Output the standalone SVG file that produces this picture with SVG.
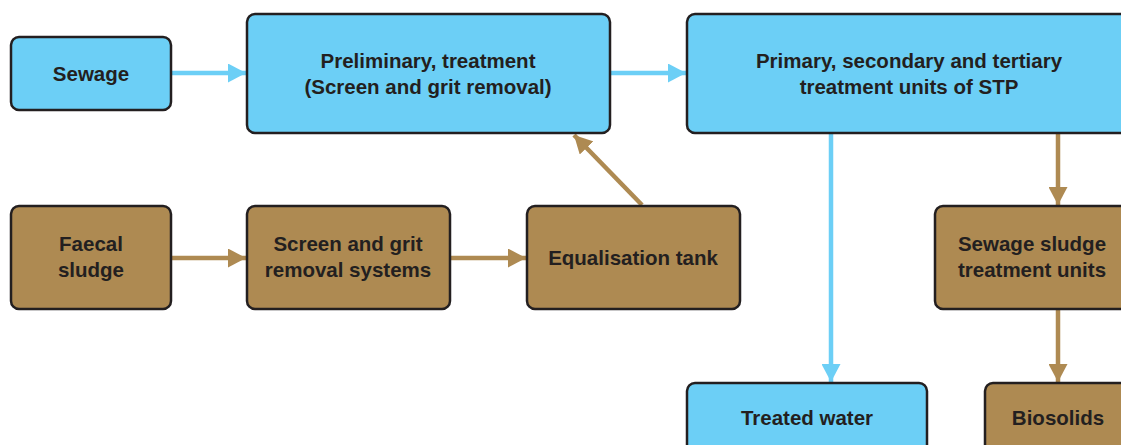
<svg xmlns="http://www.w3.org/2000/svg" width="1121" height="445" viewBox="0 0 1121 445">
<defs>
<style>
.b{fill:#6ccff6;stroke:#231f20;stroke-width:2.5}
.br{fill:#ae8a52;stroke:#231f20;stroke-width:2.5}
text{font-family:"Liberation Sans",Arial,sans-serif;font-weight:bold;font-size:20.5px;fill:#231f20;text-anchor:middle}
.lb{stroke:#6ccff6;stroke-width:4.5;fill:none}
.lr{stroke:#ae8a52;stroke-width:4.5;fill:none}
</style>
<marker id="ab" viewBox="0 0 18 19" refX="18" refY="9.5" markerWidth="18" markerHeight="19" markerUnits="userSpaceOnUse" orient="auto"><path d="M0,0L18,9.5L0,19z" fill="#6ccff6"/></marker>
<marker id="ar" viewBox="0 0 18 19" refX="18" refY="9.5" markerWidth="18" markerHeight="19" markerUnits="userSpaceOnUse" orient="auto"><path d="M0,0L18,9.5L0,19z" fill="#ae8a52"/></marker>
</defs>
<rect width="1121" height="445" fill="#fff"/>
<g id="connectors">
<line class="lb" x1="172" y1="73" x2="246" y2="73" marker-end="url(#ab)"/>
<line class="lb" x1="611" y1="73" x2="686" y2="73" marker-end="url(#ab)"/>
<line class="lr" x1="172" y1="258" x2="246" y2="258" marker-end="url(#ar)"/>
<line class="lr" x1="451" y1="258" x2="526" y2="258" marker-end="url(#ar)"/>
<line class="lr" x1="642" y1="205" x2="574" y2="135" marker-end="url(#ar)"/>
<line class="lb" x1="831" y1="134" x2="831" y2="382" marker-end="url(#ab)"/>
<line class="lr" x1="1058" y1="134" x2="1058" y2="205" marker-end="url(#ar)"/>
<line class="lr" x1="1058" y1="310" x2="1058" y2="382" marker-end="url(#ar)"/>
</g>
<g id="sewage"><rect class="b" x="11" y="37" width="160" height="73" rx="8"/><text x="91" y="81">Sewage</text></g>
<g id="preliminary"><rect class="b" x="247" y="14" width="363" height="119" rx="8"/><text x="428" y="68">Preliminary, treatment</text><text x="428" y="94">(Screen and grit removal)</text></g>
<g id="primary"><rect class="b" x="687" y="14" width="445" height="119" rx="8"/><text x="909" y="68">Primary, secondary and tertiary</text><text x="909" y="94">treatment units of STP</text></g>
<g id="faecal"><rect class="br" x="11" y="206" width="160" height="103" rx="8"/><text x="91" y="251">Faecal</text><text x="91" y="277">sludge</text></g>
<g id="screen"><rect class="br" x="247" y="206" width="203" height="103" rx="8"/><text x="348" y="251">Screen and grit</text><text x="348" y="277">removal systems</text></g>
<g id="equalisation"><rect class="br" x="527" y="206" width="213" height="103" rx="8"/><text x="633" y="265">Equalisation tank</text></g>
<g id="sludge-treatment"><rect class="br" x="935" y="206" width="200" height="103" rx="8"/><text x="1032" y="251">Sewage sludge</text><text x="1032" y="277">treatment units</text></g>
<g id="treated-water"><rect class="b" x="687" y="383" width="240" height="70" rx="8"/><text x="807" y="425">Treated water</text></g>
<g id="biosolids"><rect class="br" x="985" y="383" width="150" height="70" rx="8"/><text x="1058" y="425">Biosolids</text></g>
</svg>
